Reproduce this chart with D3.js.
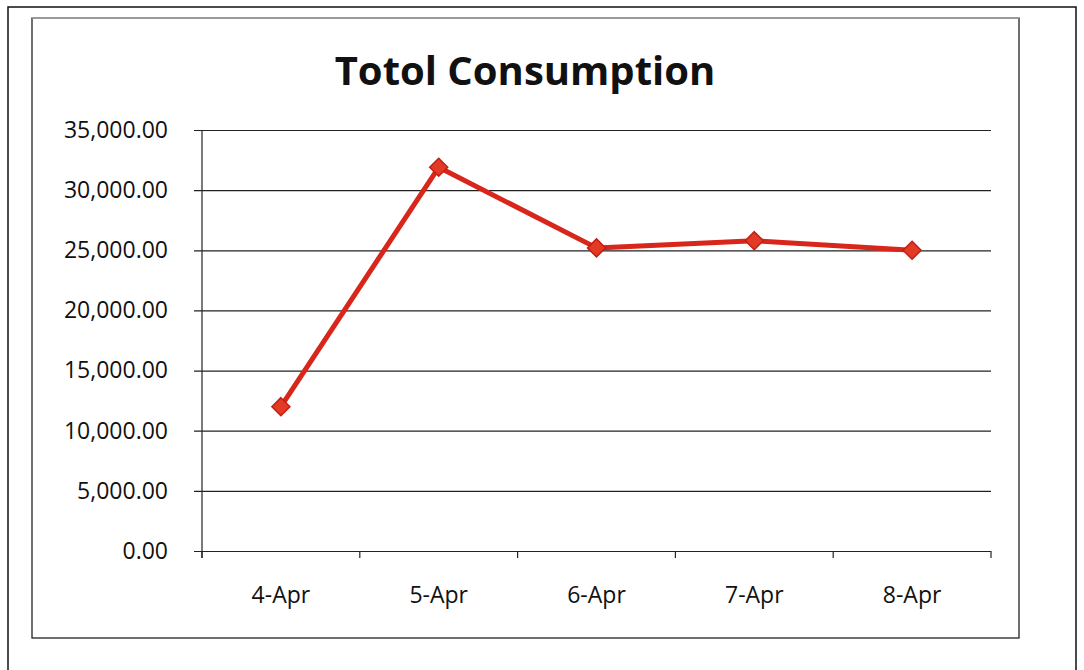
<!doctype html>
<html lang="en">
<head>
  <meta charset="utf-8">
  <title>Totol Consumption</title>
  <style>
    body { margin: 0; background: #fff; }
    svg { display: block; font-family: "Open Sans", sans-serif; }
  </style>
</head>
<body>
  <svg id="svg" width="1084" height="670"></svg>

  <script src="https://cdn.jsdelivr.net/npm/d3@7"></script>
  <script>
    var days = ["4-Apr", "5-Apr", "6-Apr", "7-Apr", "8-Apr"];
    var consumption = [12000, 31900, 25200, 25800, 25000];
    var y_ticks = [0, 5000, 10000, 15000, 20000, 25000, 30000, 35000];
    var title = "Totol Consumption";

    var svg = d3.select("#svg");

    // plot area, in page pixels ("top" is taken by window.top)
    var plot_l = 202, plot_r = 991, plot_t = 130, plot_b = 551;

    // scanned page frame
    svg.append("path")
      .attr("fill", "none")
      .attr("stroke", "#111")
      .attr("stroke-width", 1.5)
      .attr("d", "M8,670 V7 H1076 V670");

    // chart frame
    svg.append("rect")
      .attr("x", 32).attr("y", 18)
      .attr("width", 987).attr("height", 620)
      .attr("fill", "none")
      .attr("stroke", "#222")
      .attr("stroke-width", 1.3);
    svg.append("line")
      .attr("x1", 32).attr("x2", 1019).attr("y1", 18).attr("y2", 18)
      .attr("stroke", "#aaa").attr("stroke-width", 1.5);

    svg.append("text")
      .attr("x", 525)
      .attr("y", 85)
      .attr("text-anchor", "middle")
      .attr("font-size", 40)
      .attr("font-weight", "bold")
      .attr("fill", "#111")
      .text(title);

    var x = d3.scaleBand().domain(days).range([plot_l, plot_r]);
    var y = d3.scaleLinear().domain([0, 35000]).range([plot_b, plot_t]);

    // gridlines + y axis
    var y_axis = d3.axisLeft(y)
      .tickValues(y_ticks)
      .tickSize(-(plot_r - plot_l))
      .tickPadding(34)
      .tickFormat(d3.format(",.2f"));

    var gy = svg.append("g")
      .attr("transform", "translate(" + plot_l + ",0)")
      .call(y_axis);
    gy.select(".domain").remove();
    gy.selectAll(".tick line")
      .attr("x1", -8)
      .attr("stroke", "#222")
      .attr("stroke-width", 1.2);
    gy.selectAll(".tick text")
      .attr("font-size", 23)
      .attr("font-family", "Open Sans")
      .attr("fill", "#111");

    svg.append("line")
      .attr("x1", plot_l).attr("x2", plot_l)
      .attr("y1", plot_t).attr("y2", plot_b + 7)
      .attr("stroke", "#222").attr("stroke-width", 1.2);

    // x axis with ticks at band edges
    var gx = svg.append("g")
      .attr("transform", "translate(0," + plot_b + ")")
      .call(d3.axisBottom(x).tickSize(0).tickPadding(0));
    gx.select(".domain").remove();
    gx.selectAll(".tick text")
      .attr("y", 52)
      .attr("dy", 0)
      .attr("font-size", 23)
      .attr("font-family", "Open Sans")
      .attr("fill", "#111");

    var edges = days.map(function(d) { return x(d); }).concat([plot_r]);
    gx.selectAll(".edge")
      .data(edges)
      .enter().append("line")
      .attr("x1", function(d) { return d; })
      .attr("x2", function(d) { return d; })
      .attr("y1", 0).attr("y2", 7)
      .attr("stroke", "#222").attr("stroke-width", 1.2);

    // series
    var pts = days.map(function(d, i) {
      return [x(d) + x.bandwidth() / 2, y(consumption[i])];
    });

    svg.append("path")
      .attr("fill", "none")
      .attr("stroke", "#d8261b")
      .attr("stroke-width", 5)
      .attr("stroke-linejoin", "round")
      .attr("d", d3.line()(pts));

    svg.selectAll(".marker")
      .data(pts)
      .enter().append("path")
      .attr("class", "marker")
      .attr("transform", function(p) { return "translate(" + p[0] + "," + p[1] + ")"; })
      .attr("d", "M0,-9 L9,0 L0,9 L-9,0 Z")
      .attr("fill", "#e23a24")
      .attr("stroke", "#c21f14")
      .attr("stroke-width", 1.5);
  </script>
</body>
</html>
